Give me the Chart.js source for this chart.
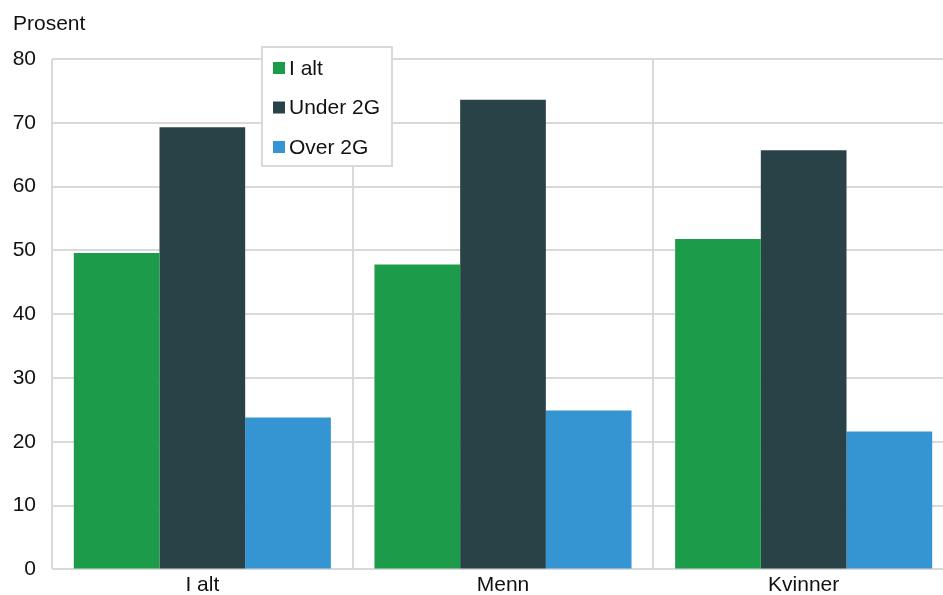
<!DOCTYPE html>
<html lang="no">
<head>
    <meta charset="UTF-8">
    <title>Prosent</title>
    <script src="https://cdn.jsdelivr.net/npm/chart.js"></script>
    <style>
        body {
            margin: 0;
            background: #fff;
            overflow: hidden;
        }
        .wrap {
            position: relative;
            width: 956px;
            height: 598px;
        }
    </style>
</head>
<body>
    <div class="wrap">
        <canvas id="chart"></canvas>
    </div>

    <script>
        // data
        const categories = ['I alt', 'Menn', 'Kvinner'];
        const seriesNames = ['I alt', 'Under 2G', 'Over 2G'];
        const iAlt = [49.6, 47.8, 51.8];
        const under2G = [69.3, 73.6, 65.7];
        const over2G = [23.8, 24.9, 21.6];
        const yTicks = [0, 10, 20, 30, 40, 50, 60, 70, 80];
        const colors = ['#1c9c4a', '#284247', '#3595d2'];

        const font = 'Liberation Sans, Arial, sans-serif';

        // title at top left + legend box drawn by hand
        const extras = {
            id: 'extras',
            afterDraw(chart) {
                const ctx = chart.ctx;
                ctx.save();
                ctx.fillStyle = '#111';
                ctx.font = '21px ' + font;
                ctx.textBaseline = 'middle';
                ctx.textAlign = 'left';
                ctx.fillText('Prosent', 13, 24);

                // legend
                const bx = 262, by = 47, bw = 130, bh = 119;
                ctx.fillStyle = '#fff';
                ctx.fillRect(bx, by, bw, bh);
                ctx.strokeStyle = '#d9d9d9';
                ctx.lineWidth = 2;
                ctx.strokeRect(bx, by, bw, bh);
                chart.data.datasets.forEach((ds, i) => {
                    const y = 68 + i * 39.5;
                    ctx.fillStyle = ds.backgroundColor;
                    ctx.fillRect(273, y - 6, 12, 12);
                    ctx.fillStyle = '#111';
                    ctx.fillText(ds.label, 289, y + 1);
                });
                ctx.restore();
            }
        };

        new Chart(document.getElementById('chart'), {
            type: 'bar',
            data: {
                labels: categories,
                datasets: [
                    { label: seriesNames[0], data: iAlt, backgroundColor: colors[0] },
                    { label: seriesNames[1], data: under2G, backgroundColor: colors[1] },
                    { label: seriesNames[2], data: over2G, backgroundColor: colors[2] }
                ]
            },
            options: {
                responsive: true,
                maintainAspectRatio: false,
                animation: false,
                layout: { padding: { top: 59, right: 2, left: 0, bottom: 0 } },
                datasets: {
                    bar: { categoryPercentage: 0.855, barPercentage: 1.0 }
                },
                plugins: {
                    legend: { display: false },
                    tooltip: { enabled: false }
                },
                scales: {
                    x: {
                        grid: { color: '#d9d9d9', lineWidth: 2, drawTicks: false },
                        border: { display: false },
                        ticks: {
                            color: '#111',
                            font: { family: font, size: 21 },
                            padding: 3
                        },
                        afterFit(scale) { scale.height = 23; }
                    },
                    y: {
                        min: 0,
                        max: 80,
                        afterBuildTicks(scale) {
                            scale.ticks = yTicks.map(v => ({ value: v }));
                        },
                        grid: { color: '#d9d9d9', lineWidth: 2, drawTicks: false },
                        border: { display: false },
                        ticks: {
                            color: '#111',
                            font: { family: font, size: 21 },
                            padding: 16
                        },
                        afterFit(scale) { scale.width = 52; }
                    }
                }
            },
            plugins: [extras]
        });
    </script>
</body>
</html>
